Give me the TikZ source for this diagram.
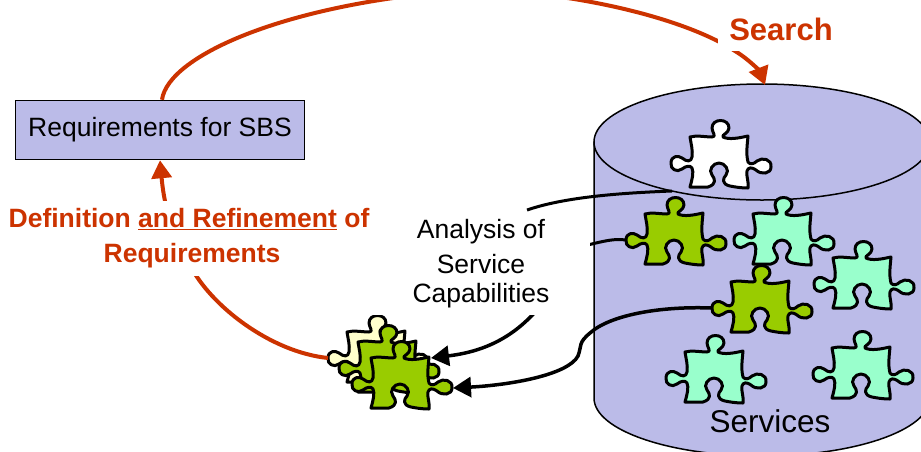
\documentclass[tikz,border=0pt]{standalone}
\usepackage{fontspec}
\setmainfont{Liberation Sans}
\usepackage{tikz}
\usetikzlibrary{arrows.meta}
\definecolor{CylBlue}{HTML}{BBBBE8}
\definecolor{FlowRed}{HTML}{CC3300}
\definecolor{PieceGreen}{HTML}{99CC00}
\definecolor{PieceAqua}{HTML}{99FFCC}
\definecolor{PieceCream}{HTML}{FFFFCC}
\tikzset{
  reqbox/.style={rectangle, draw=black, fill=CylBlue, line width=1.5pt, minimum width=289pt, minimum height=59pt, inner sep=0pt, font=\fontsize{26.5}{30}\selectfont},
  redlabel/.style={fill=white, text=FlowRed, align=center, inner sep=0pt},
  redarrow/.style={-{Triangle[length=18pt,width=20pt]}, line width=4pt, FlowRed},
  blackarrow/.style={-{Triangle[length=18pt,width=20pt]}, line width=3.5pt, black},
  feeler/.style={line width=3pt, black},
  cyl/.style={draw=black, fill=CylBlue, line width=1.5pt},
  puzzle/.pic={
    \draw[line width=3pt, line join=round, fill=#1] (-29,-25)
      .. controls (-22,-27) and (-14,-25) .. (-7,-25)
      .. controls (-2,-25) and (-7,-30) .. (-7,-34)
      .. controls (-7,-44) and (10,-44) .. (10,-34)
      .. controls (10,-29) and (2,-27) .. (4,-25)
      .. controls (10,-22) and (20,-24) .. (29,-26)
      .. controls (28,-15) and (27,-8) .. (29,0)
      .. controls (31,3) and (35,2) .. (38,-1)
      .. controls (43,-5) and (53,-3) .. (52,5)
      .. controls (52,12) and (42,13) .. (37,8)
      .. controls (33,5) and (29,5) .. (28,9)
      .. controls (27,14) and (30,20) .. (29,26)
      .. controls (22,26) and (16,25) .. (11,24)
      .. controls (2,22) and (4,16) .. (7,13)
      .. controls (11,8) and (6,1) .. (0,1)
      .. controls (-6,1) and (-11,8) .. (-7,13)
      .. controls (-4,17) and (-2,22) .. (-11,25)
      .. controls (-17,25) and (-23,25) .. (-29,25)
      .. controls (-27,18) and (-25,10) .. (-27,6)
      .. controls (-29,3) and (-33,4) .. (-37,7)
      .. controls (-42,11) and (-49,7) .. (-48,1)
      .. controls (-48,-6) and (-41,-7) .. (-37,-4)
      .. controls (-32,0) and (-28,0) .. (-27,-5)
      .. controls (-26,-12) and (-28,-18) .. (-29,-25) -- cycle;
    \coordinate (-west) at (-48,1);
    \coordinate (-east) at (53,5);
    \coordinate (-ne) at (31,-25);
    \coordinate (-sw) at (-47,29);
  }
}

\begin{document}
\begin{tikzpicture}[x=1pt, y=-1pt]
  \useasboundingbox (0,0) rectangle (921,451);
  \clip (0,0) rectangle (921,451);

  % cylinder
  \path[cyl] (594,142) -- (594,398) arc[start angle=180, end angle=0, x radius=168, y radius=58] -- (930,142) -- cycle;
  \path[cyl] (762,142) ellipse[x radius=168, y radius=58];
  \coordinate (cyltop) at (765,85);

  \node[reqbox] (req) at (160,130) {Requirements for SBS};

  % puzzle pieces
  \pic (white) at (719,162) {puzzle=white};
  \pic (green1) at (674,239) {puzzle=PieceGreen};
  \pic (aqua1) at (782,239) {puzzle=PieceAqua};
  \pic (aqua2) at (862,283) {puzzle=PieceAqua};
  \pic (green2) at (760,307) {puzzle=PieceGreen};
  \pic (aqua3) at (714,377) {puzzle=PieceAqua};
  \pic (aqua4) at (861,373) {puzzle=PieceAqua};
  \node[font=\fontsize{31.5}{34}\selectfont, anchor=base] (services) at (770,432) {Services};

  % selected pieces
  \pic (cream) at (376,357) {puzzle=PieceCream};
  \pic (mid) at (387,367) {puzzle=PieceGreen};
  \pic (front) at (400,383) {puzzle=PieceGreen};

  % red flow
  \draw[redarrow] ([xshift=2pt]req.north) .. controls (168,55) and (290,2) .. (470,-10)
    .. controls (560,-10) and (680,15) .. (735,51)
    .. controls (750,60) and (760,72) .. (cyltop);
  \draw[redarrow] (cream-west) .. controls (270,352) and (210,305) .. (190,265)
    .. controls (175,235) and (165,215) .. (req.south);

  % analysis lines
  \coordinate (capt1) at (527,210);
  \coordinate (capt2) at (560,252);
  \coordinate (capt3) at (545,300);
  \draw[feeler] (white-sw) .. controls (620,193) and (565,197) .. (capt1);
  \draw[feeler] (green1-west) .. controls (612,238) and (600,242) .. (capt2);
  \draw[blackarrow] (capt3) .. controls (515,340) and (480,352) .. (front-ne);
  \draw[blackarrow] (green2-west) .. controls (660,306) and (610,315) .. (590,333)
    .. controls (578,343) and (582,345) .. (578,356)
    .. controls (568,375) and (510,385) .. (front-east);

  \node[fill=white, align=center, inner sep=0pt, minimum width=218pt, minimum height=102pt, font=\fontsize{26.5}{29}\selectfont] (analysis) at (481,264) {Analysis of\\[6pt]Service\\Capabilities};
  \node[redlabel, minimum width=126pt, minimum height=44pt, font=\fontsize{31}{34}\bfseries\selectfont] (search) at (781,29) {Search};
  \node[redlabel, minimum width=364pt, minimum height=75pt, font=\fontsize{26.5}{35}\bfseries\selectfont] (define) at (189,238) {Definition \underline{and Refinement} of\\\hspace*{6pt}Requirements};
\end{tikzpicture}
\end{document}
